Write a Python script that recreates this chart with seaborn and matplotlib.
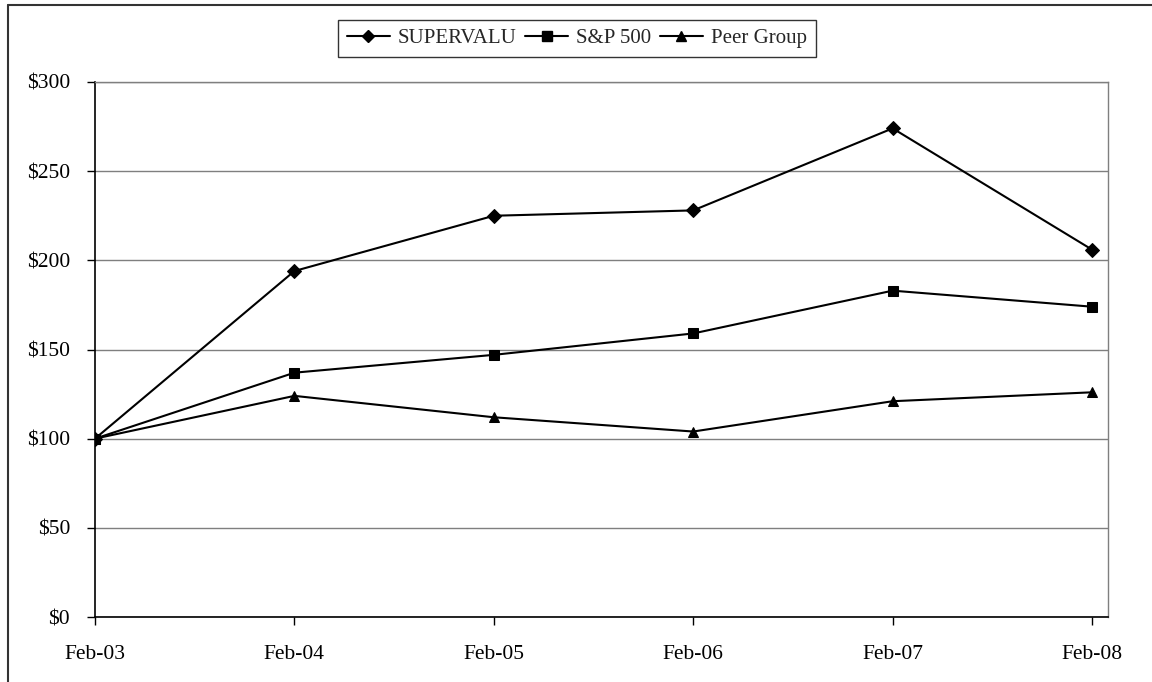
import matplotlib
matplotlib.use("Agg")
import matplotlib.pyplot as plt
import seaborn as sns
import pandas as pd
from matplotlib.lines import Line2D

periods = ["Feb-03", "Feb-04", "Feb-05", "Feb-06", "Feb-07", "Feb-08"]
supervalu = [100, 194, 225, 228, 274, 206]
sp500 = [100, 137, 147, 159, 183, 174]
peer_group = [100, 124, 112, 104, 121, 126]
series_names = ["SUPERVALU", "S&P 500", "Peer Group"]
y_ticks = [0, 50, 100, 150, 200, 250, 300]

rows = []
for name, vals in zip(series_names, [supervalu, sp500, peer_group]):
    for i, v in enumerate(vals):
        rows.append({"idx": i, "value": v, "series": name})
df = pd.DataFrame(rows)

sns.set_theme(style="white")
plt.rcParams['font.family'] = ['Liberation Serif', 'DejaVu Serif']

fig = plt.figure(figsize=(11.52, 6.82), dpi=100)
ax = fig.add_axes([95/1152, 1 - 617/682, (1108 - 95)/1152, (617 - 82)/682])

markers = {"SUPERVALU": "D", "S&P 500": "s", "Peer Group": "^"}
palette = {n: "black" for n in series_names}
sns.lineplot(data=df, x="idx", y="value", hue="series", style="series",
             markers=markers, dashes=False, palette=palette, ax=ax,
             linewidth=1.5, markersize=7.5, markeredgecolor="black", legend=False)

ax.set_xlim(0, 5.08)
ax.set_ylim(0, 300)
ax.set_xticks(range(len(periods)))
ax.set_xticklabels(periods)
ax.set_yticks(y_ticks)
ax.set_yticklabels([f"${v}" for v in y_ticks])
ax.set_xlabel("")
ax.set_ylabel("")
ax.yaxis.grid(True, color="#7f7f7f", linewidth=1)
ax.xaxis.grid(False)
ax.set_axisbelow(True)
ax.tick_params(axis="both", which="major", labelsize=15.5, colors="black",
               direction="out", length=6, width=1, bottom=True, left=True)
ax.tick_params(axis="x", pad=14)
ax.tick_params(axis="y", pad=12)
for s in ["left", "bottom"]:
    ax.spines[s].set_color("black")
    ax.spines[s].set_linewidth(1.2)
for s in ["top", "right"]:
    ax.spines[s].set_color("#7f7f7f")
    ax.spines[s].set_linewidth(1)

handles = [Line2D([], [], color="black", marker=markers[n], markersize=6.5, linewidth=1.5)
           for n in series_names]
leg = fig.legend(handles, series_names, loc="center", bbox_to_anchor=(577/1152, 1 - 38.5/682),
                 ncol=3, frameon=True, fontsize=15, handlelength=2.06, handletextpad=0.4,
                 columnspacing=0.4, borderpad=0.4, borderaxespad=0, fancybox=False,
                 edgecolor="black")
leg.get_frame().set_linewidth(1)

fig.add_artist(Line2D([8/1152, 8/1152], [0, 1 - 5/682], transform=fig.transFigure,
                      color="#333333", linewidth=1.5))
fig.add_artist(Line2D([8/1152, 1], [1 - 5/682, 1 - 5/682], transform=fig.transFigure,
                      color="#333333", linewidth=1.5))

fig.savefig("out.png", dpi=100, facecolor="white")
